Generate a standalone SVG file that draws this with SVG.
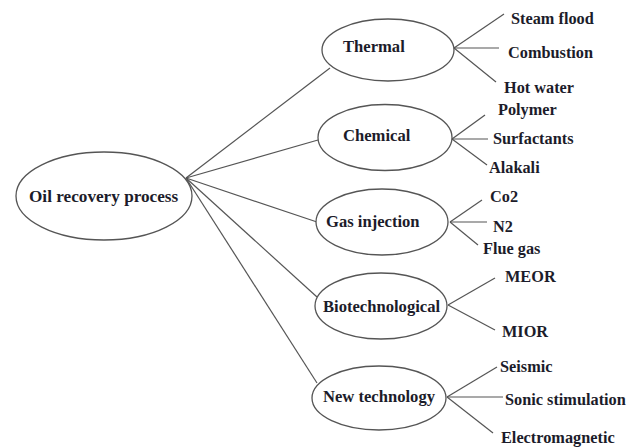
<svg xmlns="http://www.w3.org/2000/svg" width="639" height="448" viewBox="0 0 639 448">
<style>
.n{fill:#fff;stroke:#555;stroke-width:1.3}
.c line{stroke:#555;stroke-width:1.2}
text{font-family:"Liberation Serif","Times New Roman",serif;font-weight:bold;font-size:16.3px;fill:#1c1c2a}
.m{font-size:16.6px}
.r{font-size:17.2px}
</style>
<rect width="639" height="448" fill="#fff"/>
<g class="c" id="connectors">
<line x1="186" y1="178" x2="330" y2="68"/>
<line x1="186" y1="178" x2="318" y2="140"/>
<line x1="186" y1="178" x2="317" y2="222"/>
<line x1="186" y1="178" x2="317" y2="297"/>
<line x1="186" y1="178" x2="317" y2="383"/>
<line x1="454" y1="48" x2="504" y2="14"/>
<line x1="454" y1="48" x2="499" y2="48"/>
<line x1="454" y1="48" x2="496" y2="82"/>
<line x1="452" y1="139" x2="485" y2="115"/>
<line x1="452" y1="139" x2="488" y2="139"/>
<line x1="452" y1="139" x2="487" y2="165"/>
<line x1="450" y1="222" x2="482" y2="200"/>
<line x1="450" y1="222" x2="487" y2="222"/>
<line x1="450" y1="222" x2="478" y2="245"/>
<line x1="448" y1="305" x2="495" y2="278"/>
<line x1="448" y1="305" x2="495" y2="330"/>
<line x1="447" y1="397" x2="497" y2="367"/>
<line x1="447" y1="397" x2="503" y2="397"/>
<line x1="447" y1="397" x2="493" y2="433"/>
</g>
<g id="root"><ellipse class="n" cx="104" cy="196" rx="88" ry="44"/><text class="r" x="29" y="202">Oil recovery process</text></g>
<g id="thermal"><ellipse class="n" cx="388" cy="50" rx="66" ry="31"/><text class="m" x="343" y="52">Thermal</text></g>
<g id="chemical"><ellipse class="n" cx="385" cy="137.5" rx="67" ry="33"/><text class="m" x="343" y="141">Chemical</text></g>
<g id="gas"><ellipse class="n" cx="382" cy="222" rx="66" ry="33"/><text class="m" x="326" y="227">Gas injection</text></g>
<g id="bio"><ellipse class="n" cx="381" cy="306" rx="66" ry="33"/><text class="m" x="323" y="312">Biotechnological</text></g>
<g id="newtech"><ellipse class="n" cx="379" cy="398" rx="67" ry="32"/><text class="m" x="323" y="402">New technology</text></g>
<g id="leaves">
<text x="511" y="24">Steam flood</text>
<text x="508" y="58">Combustion</text>
<text x="504" y="93">Hot water</text>
<text x="498" y="115">Polymer</text>
<text x="493" y="144">Surfactants</text>
<text x="489" y="173">Alakali</text>
<text x="490" y="202">Co2</text>
<text x="493" y="232">N2</text>
<text x="483" y="254">Flue gas</text>
<text x="505" y="282">MEOR</text>
<text x="502" y="337">MIOR</text>
<text x="500" y="372">Seismic</text>
<text x="505" y="405">Sonic stimulation</text>
<text x="501" y="443">Electromagnetic</text>
</g>
</svg>
